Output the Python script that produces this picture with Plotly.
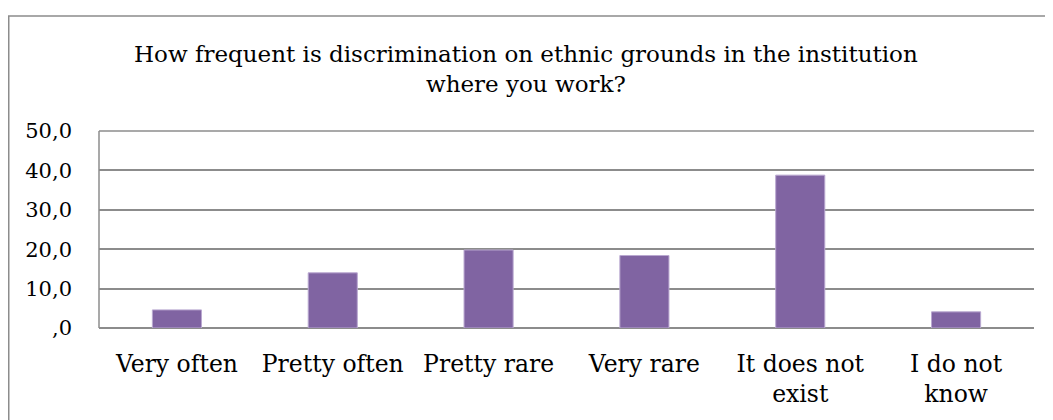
import plotly.graph_objects as go

categories = ["Very often", "Pretty often", "Pretty rare", "Very rare", "It does not<br>exist", "I do not<br>know"]
values = [4.6, 14.0, 19.8, 18.4, 38.8, 4.1]
y_tickvals = [0, 10, 20, 30, 40, 50]
y_ticktext = [",0", "10,0", "20,0", "30,0", "40,0", "50,0"]
title_text = "How frequent is discrimination on ethnic grounds in the institution<br>where you work?"

FONT = "DejaVu Serif"
# page has an 8px body margin; figure sized to fit the window
OFF = 8
W, H = 1053 - OFF, 420 - OFF
L, R, T, B = 99 - OFF, 19, 131 - OFF, 86
pw, ph = W - L - R, H - T - B

def px_x(page_px):
    return (page_px - OFF - L) / pw

def px_y(page_py):
    return (H - B - (page_py - OFF)) / ph

GRID = "#8C8C8C"

fig = go.Figure(go.Bar(
    x=categories, y=values,
    marker=dict(color="#8064A2", line=dict(color="#B9A8D0", width=1)),
    width=0.315,
))

fig.update_layout(
    width=W, height=H,
    margin=dict(l=L, r=R, t=T, b=B, pad=0),
    paper_bgcolor="white", plot_bgcolor="white",
    font=dict(family=FONT, size=21, color="black"),
    showlegend=False,
    xaxis=dict(showgrid=False, showline=False, ticks="", ticklabelstandoff=19,
               tickfont=dict(family=FONT, size=23.5)),
    yaxis=dict(range=[0, 50], tickvals=y_tickvals, ticktext=y_ticktext,
               showgrid=True, gridcolor=GRID, gridwidth=1.5,
               zeroline=True, zerolinecolor=GRID, zerolinewidth=1.5,
               showline=False, ticks="", ticklabelstandoff=26,
               tickfont=dict(family=FONT, size=21)),
    annotations=[
        dict(text=title_text, xref="paper", yref="paper",
             x=px_x(526), y=px_y(67), xanchor="center", yanchor="middle",
             showarrow=False, align="center",
             font=dict(family=FONT, size=23, color="black")),
    ],
    shapes=[
        dict(type="line", xref="paper", yref="paper",
             x0=0, x1=0, y0=0, y1=1, line=dict(color=GRID, width=1.5)),
        dict(type="line", xref="paper", yref="paper",
             x0=0, x1=1, y0=1, y1=1, line=dict(color=GRID, width=1.5)),
        dict(type="rect", xref="paper", yref="paper",
             x0=px_x(8.75), x1=px_x(1070),
             y0=px_y(440), y1=px_y(12.5),
             line=dict(color=GRID, width=1.5), fillcolor="rgba(0,0,0,0)",
             layer="below"),
    ],
)

fig.write_html("out.html")
